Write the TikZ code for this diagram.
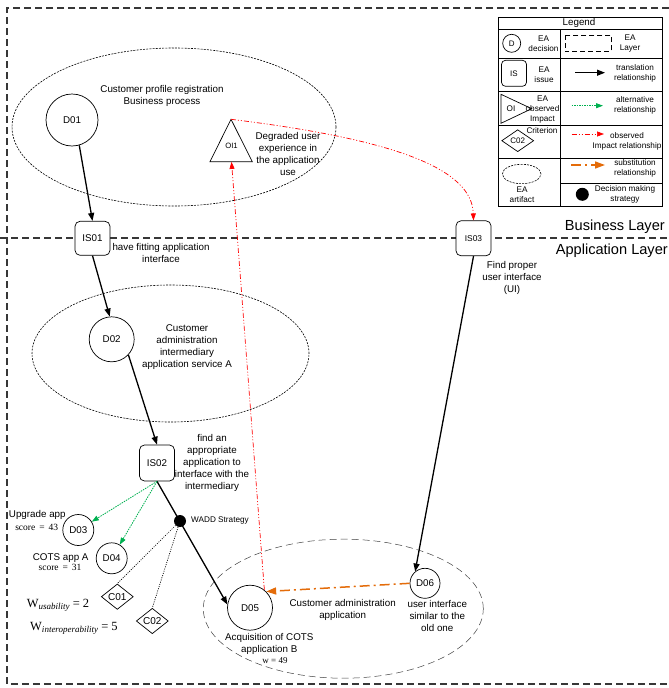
\documentclass[tikz,border=0pt]{standalone}
\usepackage{fontspec}
\setmainfont{Liberation Sans}
\newfontfamily\serifrm{Liberation Serif}
\usetikzlibrary{shapes.geometric,arrows.meta}
\definecolor{altgreen}{RGB}{0,176,80}
\definecolor{subor}{RGB}{228,108,10}
\definecolor{obsred}{RGB}{255,0,0}
\definecolor{layergray}{RGB}{55,55,55}
\begin{document}
\begin{tikzpicture}[x=1pt,y=-1pt,
  every node/.style={font=\fontsize{9.8}{12}\selectfont},
  dec/.style={circle,draw,line width=0.7pt,inner sep=0pt,fill=white},
  iss/.style={rectangle,draw,rounded corners=5pt,line width=0.7pt,inner sep=0pt,minimum width=35pt,minimum height=35pt,fill=white},
  crit/.style={diamond,draw,line width=0.7pt,inner sep=0pt,minimum width=32pt,minimum height=24pt,fill=white},
  artA/.style={ellipse,draw,line width=0.6pt,dash pattern=on 2pt off 1.2pt,inner sep=0pt},
  artB/.style={ellipse,draw=black!75,line width=0.5pt,dash pattern=on 7pt off 4pt,inner sep=0pt},
  txt/.style={align=center,inner sep=0pt},
  lgtxt/.style={align=center,inner sep=0pt,font=\fontsize{8.2}{10}\selectfont},
  trans/.style={-{Triangle[length=8pt,width=6pt]},line width=1.3pt},
  altr/.style={-{Triangle[length=7pt,width=5pt]},altgreen,line width=0.8pt,dash pattern=on 1.5pt off 1pt},
  obsr/.style={-{Triangle[length=7pt,width=5pt]},obsred,line width=0.7pt,dash pattern=on 5pt off 2pt on 1pt off 2pt on 1pt off 2pt},
  subst/.style={-{Triangle[length=10pt,width=7pt]},subor,line width=1.5pt,dash pattern=on 10pt off 4pt on 2pt off 4pt},
  wline/.style={line width=0.7pt,dash pattern=on 1pt off 1.3pt},
  layer/.style={line width=1.2pt,dash pattern=on 7pt off 4pt,draw=layergray}
]
\useasboundingbox (0,0) rectangle (669,688);

% layer borders
\draw[layer] (669,8) -- (7,8) -- (7,684) -- (669,684);
\draw[layer] (0,238) -- (669,238);
\node[anchor=base east,inner sep=0pt,font=\fontsize{14.6}{16}\selectfont] (BL) at (665,230.5) {Business Layer};
\node[anchor=base east,inner sep=0pt,font=\fontsize{14.6}{16}\selectfont] (AL) at (668,254.7) {Application Layer};

% artifacts
\node[artA,minimum width=324pt,minimum height=158pt] (E1) at (174,127) {};
\node[artA,minimum width=277pt,minimum height=137pt] (E2) at (170.5,353.5) {};
\node[artB,minimum width=280pt,minimum height=139pt] (E3) at (343.3,608.7) {};

% nodes
\node[dec,minimum size=52pt] (D01) at (72,120) {D01};
\node[dec,minimum size=45pt] (D02) at (111.7,339.3) {D02};
\node[dec,minimum size=31pt] (D03) at (78.3,530) {D03};
\node[dec,minimum size=31pt] (D04) at (111.7,558.3) {D04};
\node[dec,minimum size=45pt] (D05) at (250,607.7) {D05};
\node[dec,minimum size=30pt] (D06) at (425,583.3) {D06};
\node[iss,minimum height=34pt] (IS01) at (92.5,238.3) {IS01};
\node[iss,minimum height=36pt] (IS02) at (157,463) {IS02};
\node[iss,font=\fontsize{8.4}{10}\selectfont] (IS03) at (473.5,238.3) {IS03};
\node[crit,font=\fontsize{10}{12}\selectfont] (C01) at (117.3,596.7) {C01};
\node[crit,font=\fontsize{10}{12}\selectfont] (C02) at (152.3,621) {C02};

% observed impact triangle
\draw[line width=0.7pt,fill=white] (231,119.3) -- (252.3,161.7) -- (210,161.7) -- cycle;
\coordinate (OI1top) at (231,119.3);
\coordinate (OI1bot) at (231.5,161.9);
\node[inner sep=0pt,font=\fontsize{7.7}{9}\selectfont] (OI1) at (231.5,146) {OI1};

% texts
\node[txt] (T1) at (162,96) {Customer profile registration\\Business process};
\node[txt] (T2) at (288,154) {Degraded user\\experience in\\the application\\use};
\node[txt] (T3) at (161,253) {have fitting application\\interface};
\node[txt] (T4) at (512,278) {Find proper\\user interface\\(UI)};
\node[txt] (T5) at (187,347) {Customer\\administration\\intermediary\\application service A};
\node[txt] (T6) at (212,463) {find an\\appropriate\\application to\\interface with the\\intermediary};
\node[txt,font=\fontsize{8.2}{10}\selectfont] (T7) at (220,520) {WADD Strategy};
\node[txt] (T8) at (37.3,514.7) {Upgrade app};
\node[txt,font=\serifrm\fontsize{9.5}{11}\selectfont] (T8s) at (36.7,527.3) {score\, =\, 43};
\node[txt] (T9) at (60.7,557.7) {COTS app A};
\node[txt,font=\serifrm\fontsize{9.5}{11}\selectfont] (T9s) at (60,567.7) {score\, =\, 31};
\node[anchor=base west,inner sep=0pt,font=\serifrm\fontsize{12.5}{14}\selectfont] (Wu) at (26.7,607) {W\raisebox{-2pt}{\fontsize{9}{10}\selectfont\itshape usability} = 2};
\node[anchor=base west,inner sep=0pt,font=\serifrm\fontsize{12.5}{14}\selectfont] (Wi) at (30,630) {W\raisebox{-2pt}{\fontsize{9}{10}\selectfont\itshape interoperability} = 5};
\node[txt] (T11) at (269.3,644.3) {Acquisition of COTS\\application B};
\node[txt,font=\serifrm\fontsize{9}{10}\selectfont] (T11w) at (275,660.7) {w = 49};
\node[txt] (T12) at (342.7,609.5) {Customer administration\\application};
\node[txt] (T13) at (437.3,616.3) {user interface\\similar to the\\old one};

% connectors
\draw[trans] (D01.-74) -- (IS01.north);
\draw[trans] (IS01.south) -- (D02.95);
\draw[trans] (D02.-43) -- (IS02.north);
\draw[trans] (IS02.south) -- (D05.172);
\draw[trans] (IS03.south) -- (D06.130);
\draw[altr] (IS02.south) -- (D03);
\draw[altr] (IS02.south) -- (D04);
\node[circle,fill=black,inner sep=0pt,minimum size=12pt] (WADD) at (180,521) {};
\draw[wline] (WADD) -- (C01.north);
\draw[wline] (WADD) -- (C02.north);
\draw[subst] (D06.west) -- (D05.45);
\draw[obsr] (D05.51) -- (OI1bot);
\draw[obsr] (OI1top) .. controls (400,140) and (472,170) .. (IS03.north);

% legend
\draw[line width=0.7pt] (498,17) rectangle (662,206);
\draw[line width=0.7pt] (498,29) -- (662,29);
\draw[line width=0.7pt] (498,58.3) -- (662,58.3);
\draw[line width=0.7pt] (498,91.7) -- (662,91.7);
\draw[line width=0.7pt] (498,125) -- (662,125);
\draw[line width=0.7pt] (498,158.3) -- (662,158.3);
\draw[line width=0.7pt] (560,183.3) -- (662,183.3);
\draw[line width=0.7pt] (560,29) -- (560,206);
\node[lgtxt,font=\fontsize{9.8}{11}\selectfont] (LgT) at (579,22.5) {Legend};

\node[dec,minimum size=18pt,font=\fontsize{8}{9}\selectfont] (LgD) at (511.7,43.3) {D};
\node[lgtxt] (LgDt) at (543.5,43.5) {EA\\decision};
\draw[line width=1pt,dash pattern=on 5pt off 3pt] (565,35) rectangle (611,51.7);
\node[lgtxt] (LgLt) at (630,43.5) {EA\\Layer};

\node[iss,minimum width=25pt,minimum height=26pt,rounded corners=4pt,font=\fontsize{8}{9}\selectfont] (LgIS) at (514,73.3) {IS};
\node[lgtxt] (LgISt) at (544,75) {EA\\issue};
\coordinate (LgA1) at (575,72.7);
\coordinate (LgA2) at (605,72.7);
\draw[trans] (LgA1) -- (LgA2);
\node[lgtxt] (LgAt) at (635,73) {translation\\relationship};

\draw[line width=0.7pt] (501,94.3) -- (531.7,108.7) -- (501,123.3) -- cycle;
\node[lgtxt] (LgOI) at (511,108.5) {OI};
\node[lgtxt] (LgOIt) at (542.5,110) {EA\\observed\\Impact};
\coordinate (LgG1) at (571.7,105.7);
\coordinate (LgG2) at (603,105.7);
\draw[altr] (LgG1) -- (LgG2);
\node[lgtxt] (LgGt) at (635,105) {alternative\\relationship};

\node[crit,minimum width=32pt,minimum height=22pt,font=\fontsize{8}{9}\selectfont] (LgC) at (517.7,140.7) {C02};
\node[lgtxt] (LgCt) at (542,131) {Criterion};
\coordinate (LgR1) at (571.7,134);
\coordinate (LgR2) at (604,134);
\draw[obsr] (LgR1) -- (LgR2);
\node[lgtxt] (LgRt) at (627,141) {observed\\Impact relationship};

\node[artA,minimum width=38.6pt,minimum height=19.4pt] (LgE) at (521.7,174) {};
\node[lgtxt] (LgEt) at (522,195) {EA\\artifact};
\coordinate (LgO1) at (571,165);
\coordinate (LgO2) at (605,165);
\draw[subst] (LgO1) -- (LgO2);
\node[lgtxt] (LgOt) at (635,168.5) {substitution\\relationship};

\node[circle,fill=black,inner sep=0pt,minimum size=13pt] (LgW) at (582.3,194.3) {};
\node[lgtxt] (LgWt) at (625,194) {Decision making\\strategy};
\end{tikzpicture}
\end{document}
